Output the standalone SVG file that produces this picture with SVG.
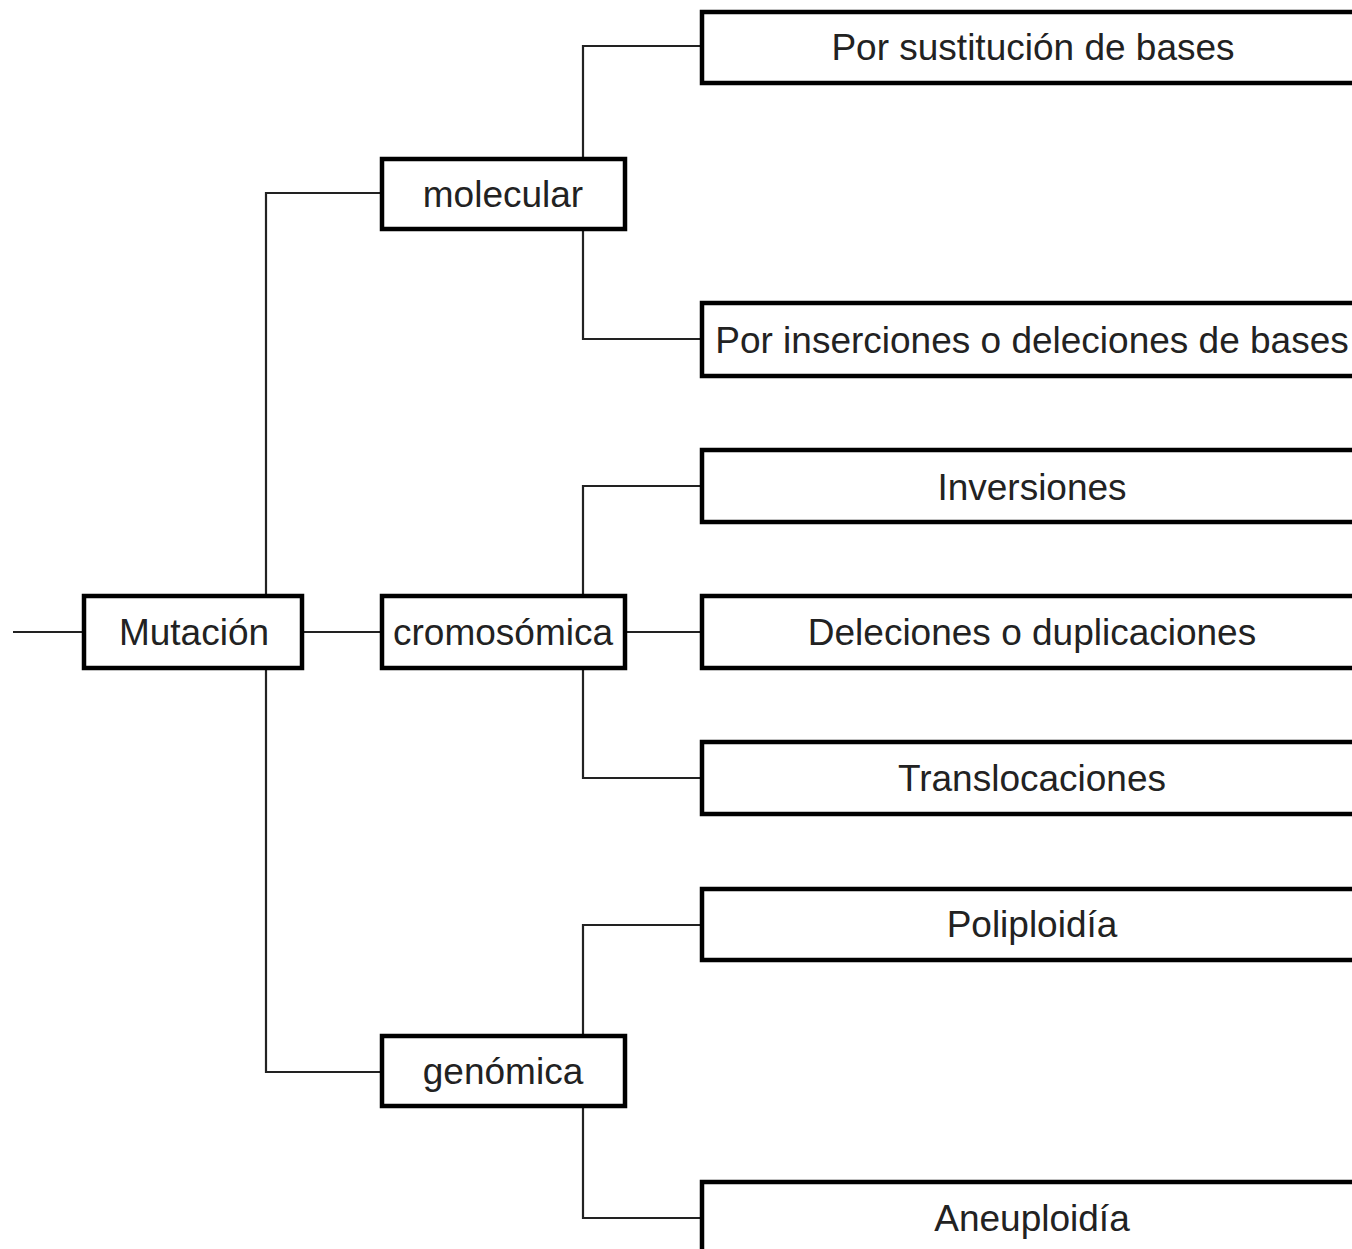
<svg xmlns="http://www.w3.org/2000/svg" width="1352" height="1249" viewBox="0 0 1352 1249">
<style>
.box{fill:#fff;stroke:#000;stroke-width:4.5}
.lbl{font-family:"Liberation Sans",Arial,sans-serif;font-size:37px;fill:#222;text-anchor:middle}
.con{fill:none;stroke:#222;stroke-width:2.2}
</style>
<rect width="1352" height="1249" fill="#fff"/>
<g id="connectors">
<path class="con" d="M13 632H84"/>
<path class="con" d="M302 632H382"/>
<path class="con" d="M382 193H266V1072H382"/>
<path class="con" d="M583 159V46H702"/>
<path class="con" d="M583 229V339H702"/>
<path class="con" d="M583 596V486H702"/>
<path class="con" d="M625 632H702"/>
<path class="con" d="M583 668V778H702"/>
<path class="con" d="M583 1036V925H702"/>
<path class="con" d="M583 1106V1218H702"/>
</g>
<g id="mutacion"><rect class="box" x="84" y="596" width="218" height="72"/><text class="lbl" x="194" y="645">Mutación</text></g>
<g id="molecular"><rect class="box" x="382" y="159" width="243" height="70"/><text class="lbl" x="503" y="207">molecular</text></g>
<g id="cromosomica"><rect class="box" x="382" y="596" width="243" height="72"/><text class="lbl" x="503" y="645">cromosómica</text></g>
<g id="genomica"><rect class="box" x="382" y="1036" width="243" height="70"/><text class="lbl" x="503" y="1084">genómica</text></g>
<g id="sustitucion"><rect class="box" x="702" y="12" width="664" height="71"/><text class="lbl" x="1033" y="60">Por sustitución de bases</text></g>
<g id="inserciones"><rect class="box" x="702" y="303" width="664" height="73"/><text class="lbl" x="1032" y="353">Por inserciones o deleciones de bases</text></g>
<g id="inversiones"><rect class="box" x="702" y="450" width="664" height="72"/><text class="lbl" x="1032" y="500">Inversiones</text></g>
<g id="deleciones"><rect class="box" x="702" y="596" width="664" height="72"/><text class="lbl" x="1032" y="645">Deleciones o duplicaciones</text></g>
<g id="translocaciones"><rect class="box" x="702" y="742" width="664" height="72"/><text class="lbl" x="1032" y="791">Translocaciones</text></g>
<g id="poliploidia"><rect class="box" x="702" y="889" width="664" height="71"/><text class="lbl" x="1032" y="937">Poliploidía</text></g>
<g id="aneuploidia"><rect class="box" x="702" y="1182" width="664" height="80"/><text class="lbl" x="1032" y="1231">Aneuploidía</text></g>
</svg>
